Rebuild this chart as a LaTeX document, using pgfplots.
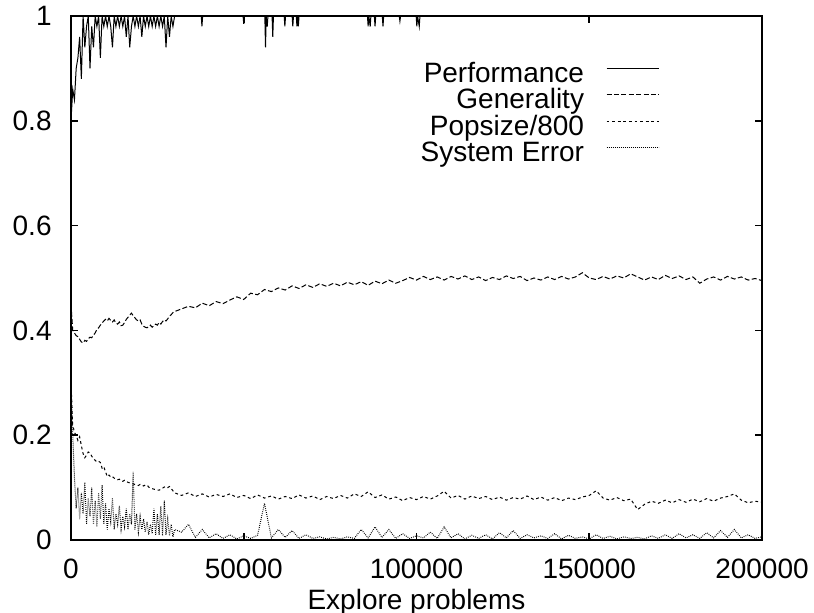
\documentclass[border=0pt]{standalone}
\usepackage{fontspec}
\setmainfont{Liberation Sans}
\usepackage{pgfplots}
\usepackage{pgfplotstable}
\pgfplotsset{compat=1.18}

% performance: near 1, dips only where spikes are visible
\pgfplotstableread{
x perf
0 0.80
500 0.86
1000 0.84
1500 0.90
2000 0.92
2500 0.96
3000 0.88
3500 1
4000 0.94
4500 0.98
5000 1
5500 0.90
6000 0.98
6500 0.94
7000 1
7500 0.98
8000 1
8500 0.92
9000 1
9500 0.98
10000 1
10500 0.98
11000 1
11500 0.98
12000 0.94
12500 1
13000 0.98
13500 1
14000 0.98
14500 1
15000 0.98
15500 1
16000 0.96
16500 1
17000 0.94
17500 0.98
18000 1
18500 0.98
19000 1
19500 0.98
20000 1
20500 0.96
21000 1
21500 0.98
22000 1
22500 0.98
23000 1
23500 0.98
24000 1
24500 0.98
25000 1
25500 0.98
26000 1
26500 0.98
27000 1
27500 0.94
28000 1
28500 0.96
29000 1
29500 0.98
30000 1
37700 1
37900 0.98
38100 1
49800 1
50000 0.985
50200 1
56100 1
56300 0.94
56500 1
56800 0.98
57000 1
58200 1
58400 0.96
58600 1
61700 1
61900 0.98
62100 1
64000 1
64200 0.98
64400 1
65200 1
65400 0.98
65600 1
65800 0.98
66000 1
85800 1
86000 0.98
86200 1
86600 0.98
86800 1
87800 1
88000 0.98
88200 1
90100 1
90300 0.98
90500 1
95000 1
95200 0.99
95400 1
99900 1
100100 0.98
100300 1
100800 0.98
101000 1
200000 1
}\perftab

\pgfplotstableread{
x gen pop err
0 0.45 0.30 0.30
500 0.40 0.22 0.20
1000 0.395 0.205 0.12
1500 0.39 0.20 0.06
2000 0.388 0.19 0.10
2500 0.383 0.197 0.04
3000 0.378 0.18 0.09
3500 0.376 0.165 0.05
4000 0.381 0.157 0.11
4500 0.379 0.162 0.03
5000 0.384 0.168 0.08
5500 0.387 0.166 0.045
6000 0.386 0.160 0.10
6500 0.391 0.155 0.03
7000 0.395 0.152 0.075
7500 0.402 0.149 0.025
8000 0.405 0.150 0.09
8500 0.41 0.148 0.04
9000 0.414 0.137 0.105
9500 0.418 0.140 0.03
10000 0.421 0.130 0.07
10500 0.418 0.121 0.02
11000 0.423 0.124 0.06
11500 0.419 0.120 0.035
12000 0.416 0.121 0.08
12500 0.42 0.118 0.02
13000 0.414 0.117 0.05
13500 0.412 0.115 0.03
14000 0.416 0.116 0.065
14500 0.409 0.113 0.02
15000 0.41 0.112 0.045
15500 0.415 0.114 0.025
16000 0.421 0.112 0.06
16500 0.425 0.110 0.02
17000 0.429 0.109 0.05
17500 0.433 0.108 0.03
18000 0.428 0.107 0.13
18500 0.424 0.106 0.02
19000 0.42 0.105 0.05
19500 0.418 0.104 0.015
20000 0.42 0.106 0.045
20500 0.412 0.105 0.02
21000 0.408 0.103 0.04
21500 0.406 0.105 0.015
22000 0.405 0.105 0.035
22500 0.407 0.101 0.01
23000 0.41 0.099 0.03
23500 0.406 0.098 0.012
24000 0.409 0.097 0.06
24500 0.412 0.096 0.01
25000 0.41 0.095 0.05
25500 0.415 0.095 0.01
26000 0.412 0.097 0.065
26500 0.417 0.099 0.008
27000 0.42 0.101 0.075
27500 0.418 0.102 0.01
28000 0.422 0.100 0.04
28500 0.427 0.102 0.008
29000 0.43 0.098 0.03
29500 0.434 0.094 0.006
30000 0.436 0.090 0.02
32000 0.441 0.085 0.015
34000 0.446 0.090 0.03
36000 0.443 0.083 0.005
38000 0.452 0.088 0.02
40000 0.447 0.082 0.004
42000 0.455 0.087 0.012
44000 0.451 0.083 0.003
46000 0.458 0.088 0.01
48000 0.464 0.081 0.002
50000 0.459 0.085 0.008
52000 0.471 0.079 0.003
54000 0.468 0.086 0.009
56000 0.478 0.080 0.07
58000 0.474 0.084 0.004
60000 0.481 0.078 0.02
62000 0.477 0.083 0.005
64000 0.485 0.079 0.018
66000 0.480 0.086 0.003
68000 0.487 0.080 0.01
70000 0.482 0.084 0.003
72000 0.489 0.077 0.006
74000 0.484 0.083 0.002
76000 0.490 0.079 0.005
78000 0.485 0.085 0.002
80000 0.492 0.080 0.006
82000 0.487 0.088 0.003
84000 0.493 0.083 0.02
86000 0.486 0.092 0.004
88000 0.494 0.081 0.025
90000 0.489 0.086 0.005
92000 0.496 0.078 0.02
94000 0.490 0.082 0.003
96000 0.495 0.075 0.012
98000 0.501 0.081 0.003
100000 0.496 0.077 0.008
102000 0.503 0.083 0.004
104000 0.497 0.078 0.015
106000 0.502 0.084 0.003
108000 0.496 0.093 0.025
110000 0.503 0.080 0.004
112000 0.498 0.085 0.012
114000 0.504 0.078 0.002
116000 0.497 0.084 0.009
118000 0.502 0.079 0.003
120000 0.495 0.083 0.01
122000 0.501 0.077 0.002
124000 0.497 0.082 0.014
126000 0.504 0.076 0.004
128000 0.499 0.081 0.018
130000 0.503 0.078 0.003
132000 0.495 0.084 0.01
134000 0.500 0.077 0.004
136000 0.496 0.082 0.008
138000 0.502 0.076 0.003
140000 0.497 0.081 0.012
142000 0.503 0.075 0.002
144000 0.498 0.080 0.009
146000 0.502 0.077 0.003
148000 0.510 0.082 0.006
150000 0.500 0.085 0.002
152000 0.497 0.094 0.01
154000 0.503 0.080 0.003
156000 0.498 0.076 0.007
158000 0.504 0.081 0.002
160000 0.500 0.075 0.006
162000 0.508 0.078 0.003
164000 0.502 0.058 0.005
166000 0.496 0.068 0.002
168000 0.502 0.074 0.008
170000 0.497 0.070 0.003
172000 0.505 0.076 0.01
174000 0.499 0.071 0.003
176000 0.504 0.077 0.012
178000 0.497 0.072 0.004
180000 0.502 0.078 0.01
182000 0.490 0.073 0.003
184000 0.498 0.079 0.014
186000 0.502 0.074 0.004
188000 0.496 0.080 0.018
190000 0.503 0.083 0.005
192000 0.498 0.088 0.02
194000 0.502 0.076 0.004
196000 0.496 0.071 0.01
198000 0.499 0.074 0.003
200000 0.495 0.072 0.006
}\maintab

\begin{document}
\begin{tikzpicture}[font=\fontsize{14}{16}\selectfont]
\begin{axis}[
    name=ax,
    scale only axis,
    width=345.5pt,
    height=262pt,
    xmin=0, xmax=200000,
    ymin=0, ymax=1,
    xtick={0,50000,100000,150000,200000},
    ytick={0,0.2,0.4,0.6,0.8,1},
    scaled x ticks=false,
    scaled y ticks=false,
    /pgf/number format/assume math mode=true,
    xticklabel={\pgfmathprintnumber[fixed, precision=0, 1000 sep={}]{\tick}},
    yticklabel={\pgfmathprintnumber[fixed, precision=1]{\tick}},
    tick align=inside,
    major tick length=3.5pt,
    axis line style={line width=0.8pt},
    every tick/.style={black, line width=0.8pt},
    xticklabel style={inner sep=0pt, anchor=north},
    yticklabel style={inner sep=0pt, anchor=east},
    xticklabel shift=9.5pt,
    yticklabel shift=9.5pt,
    xlabel={Explore problems},
    xlabel style={inner sep=0pt, yshift=-5pt},
    legend style={draw=none, fill=none, at={(0.851,0.912)}, anchor=north east,
        inner sep=0pt, outer sep=0pt, column sep=11pt, row sep=0pt,
        nodes={inner sep=0pt, text height=10pt, text depth=3.25pt}},
    legend cell align=right,
    legend plot pos=right,
    legend image code/.code={\path (0pt,0pt); \draw[#1] (0pt,3.6pt) -- (26pt,3.6pt);},
    every axis plot/.append style={line width=0.5pt, black},
]
\addplot[solid] table[x=x, y=perf] {\perftab};
\addplot[dash pattern=on 2.5pt off 1.2pt] table[x=x, y=gen] {\maintab};
\addplot[dash pattern=on 1.4pt off 1.4pt] table[x=x, y=pop] {\maintab};
\addplot[dash pattern=on 0.4pt off 0.6pt] table[x=x, y=err] {\maintab};
\legend{Performance, Generality, Popsize/800, System Error}
\end{axis}
\pgfresetboundingbox
\path[use as bounding box] ([shift={(-35.5pt,-36.5pt)}]ax.south west) rectangle ([shift={(26pt,8pt)}]ax.north east);
\end{tikzpicture}
\end{document}
